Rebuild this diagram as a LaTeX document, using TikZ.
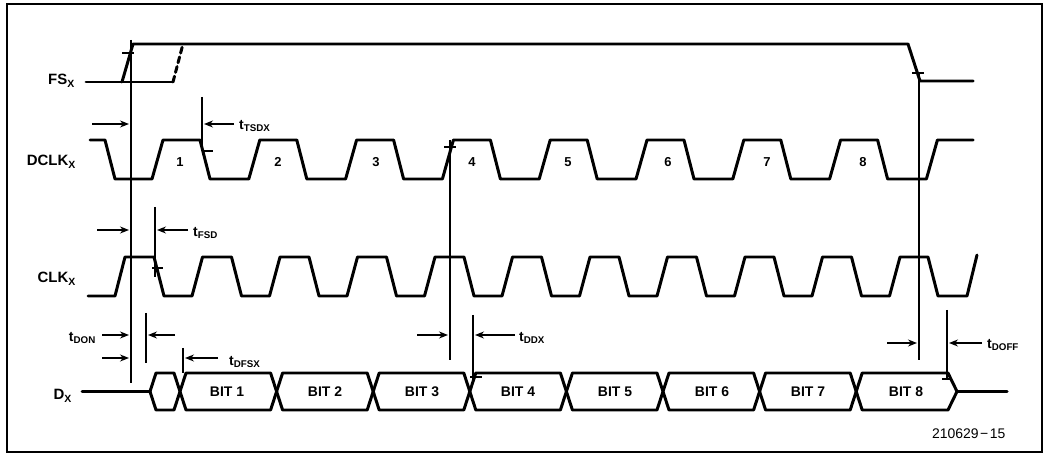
\documentclass[tikz,border=0pt]{standalone}
\usepackage{fontspec}
\setmainfont{Liberation Sans}
\usetikzlibrary{arrows.meta}
\tikzset{
  sig/.style={line width=3pt, line join=round, line cap=round},
  ann/.style={line width=1.2pt},
  tick/.style={line width=1.2pt},
  arr/.style={line width=1.4pt, -{Stealth[length=9pt,width=7pt]}},
  lbl/.style={font=\bfseries\fontsize{15}{15}\selectfont, inner sep=0pt, anchor=base east},
  num/.style={font=\bfseries\fontsize{13}{13}\selectfont, inner sep=0pt},
  bit/.style={font=\bfseries\fontsize{14}{14}\selectfont, inner sep=0pt},
  tlab/.style={font=\bfseries\fontsize{14}{14}\selectfont, inner sep=0pt, anchor=west},
}
\newcommand{\tsb}[1]{t\textsubscript{#1}}
\begin{document}
\begin{tikzpicture}[x=1bp,y=-1bp]
\useasboundingbox (0,0) rectangle (1045,455);
% frame
\draw[line width=1.4pt] (7,4) rectangle (1042,452);

% signal labels
\node[lbl] (lfs) at (75,85) {FS\textsubscript{X}};
\node[lbl] (ldclk) at (76,166) {DCLK\textsubscript{X}};
\node[lbl] (lclk) at (76,283) {CLK\textsubscript{X}};
\node[lbl] (ldx) at (72,400) {D\textsubscript{X}};

% FS_X
\draw[sig] (86,82) -- (173,82);
\draw[sig] (122,82) -- (133,44) -- (908,44) -- (920,81) -- (973,81);
\draw[sig, dashed, dash pattern=on 6pt off 4pt] (173,82) -- (183,44);

% DCLK_X
\draw[sig] (90,140) -- (105,140) -- (115,179)
  foreach \k in {0,...,7} { -- ({152+96.8*\k},179) -- ({163+96.8*\k},140) -- ({200+96.8*\k},140) -- ({210+96.8*\k},179) }
  -- ({152+96.8*8},179) -- ({163+96.8*8},140) -- (973,140);
\foreach \n/\xx in {1/180,2/278,3/376,4/472,5/568,6/668,7/767,8/863}
  \node[num] (n\n) at (\xx,162) {\n};

% CLK_X
\draw[sig] (88,296) -- (115,296)
  foreach \k in {0,...,9} { -- ({125+77.5*\k},257) -- ({154+77.5*\k},257) -- ({164+77.5*\k},296) -- ({192+77.5*\k},296) }
  -- (900,257) -- (928,257) -- (938,296) -- (967,296) -- (977,255);

% D_X
\draw[sig] (82,391.5) -- (150,391.5);
\draw[sig] (150,391.5) -- (156,373) -- (174,373) -- (186,410) -- (270.6,410) -- (282.6,373) -- (367.2,373) -- (379.2,410) -- (463.8,410) -- (475.8,373) -- (560.4,373) -- (572.4,410) -- (657,410) -- (669,373) -- (753.6,373) -- (765.6,410) -- (850.2,410) -- (862.2,373) -- (948,373) -- (957,391.5);
\draw[sig] (150,391.5) -- (156,410) -- (174,410) -- (186,373) -- (270.6,373) -- (282.6,410) -- (367.2,410) -- (379.2,373) -- (463.8,373) -- (475.8,410) -- (560.4,410) -- (572.4,373) -- (657,373) -- (669,410) -- (753.6,410) -- (765.6,373) -- (850.2,373) -- (862.2,410) -- (948,410) -- (957,391.5) -- (1007,391.5);
\foreach \n/\xx in {1/227,2/325,3/422,4/518,5/615,6/712,7/808,8/906}
  \node[bit] (b\n) at (\xx,392) {BIT \n};

% timing reference lines and ticks
\draw[ann] (131,40) -- (131,383);
\draw[tick] (122,53) -- (134,53);
\draw[ann] (202,97) -- (202,146);
\draw[tick] (204,151) -- (213,151);
\draw[ann] (155,207) -- (155,277);
\draw[tick] (152,268) -- (163,268);
\draw[ann] (450,140) -- (450,360);
\draw[tick] (444,147) -- (456,147);
\draw[ann] (919,73) -- (919,360);
\draw[tick] (912,73) -- (924,73);
\draw[ann] (146,313) -- (146,363);
\draw[ann] (183,348) -- (183,373);
\draw[ann] (473,315) -- (473,380);
\draw[tick] (470,377) -- (482,377);
\draw[ann] (947,310) -- (947,378);
\draw[tick] (942,379) -- (952,379);

% arrows and timing labels
\draw[arr] (92,124) -- (129,124);
\draw[arr] (234,124) -- (204,124);
\node[tlab] (ttsdx) at (239,126) {\tsb{TSDX}};

\draw[arr] (97,230) -- (129,230);
\draw[arr] (188,230) -- (157,230);
\node[tlab] (tfsd) at (193,233) {\tsb{FSD}};

\node[tlab, anchor=east] (tdon) at (96,338) {\tsb{DON}};
\draw[arr] (102,335) -- (129,335);
\draw[arr] (175,335) -- (148,335);
\draw[arr] (102,358) -- (129,358);

\draw[arr] (218,358) -- (185,358);
\node[tlab] (tdfsx) at (229,362) {\tsb{DFSX}};

\draw[arr] (417,335) -- (448,335);
\draw[arr] (515,335) -- (475,335);
\node[tlab] (tddx) at (519,338) {\tsb{DDX}};

\draw[arr] (887,343) -- (917,343);
\draw[arr] (982,343) -- (949,343);
\node[tlab] (tdoff) at (987,345) {\tsb{DOFF}};

\node[font=\fontsize{14}{14}\selectfont, inner sep=0pt, anchor=base west] (fig) at (932,438) {210629\hspace{1.5pt}\textminus\hspace{1.5pt}15};
\end{tikzpicture}
\end{document}
